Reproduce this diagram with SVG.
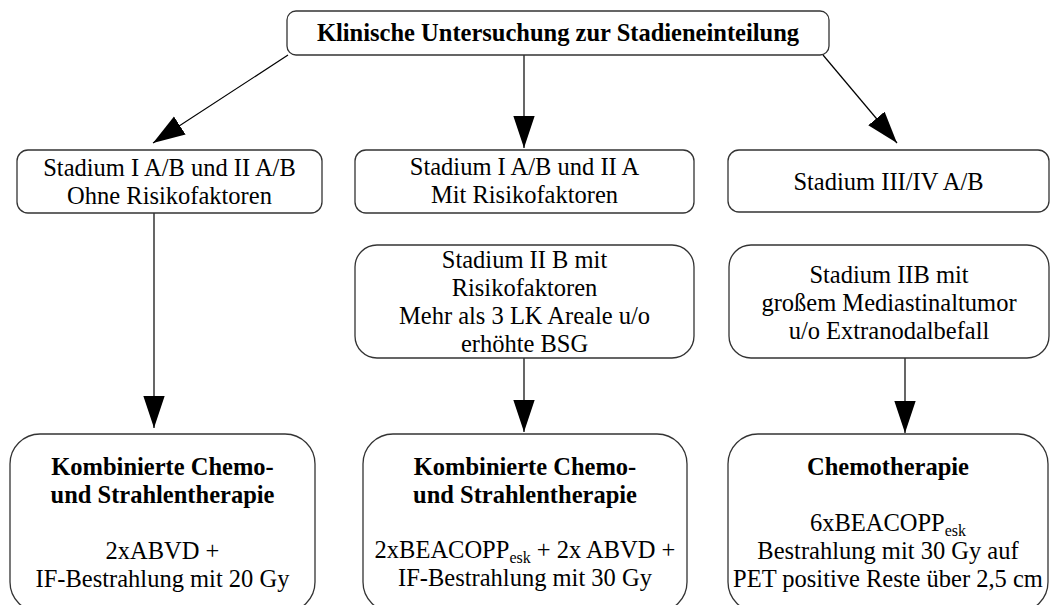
<svg xmlns="http://www.w3.org/2000/svg" width="1050" height="605" viewBox="0 0 1050 605">
<defs>
<style>
.box{fill:#fff;stroke:#333;stroke-width:1.3}
.t{font-family:"Liberation Serif","Times New Roman",serif;font-size:24.5px;fill:#000;text-anchor:middle}
.b{font-weight:bold}
.c{stroke:#000;stroke-width:1.2;fill:none;marker-end:url(#ah)}
</style>
<marker id="ah" markerUnits="userSpaceOnUse" markerWidth="32" markerHeight="22" viewBox="0 0 30 20" refX="30" refY="10" orient="auto">
<path d="M0,0 L30,10 L0,20 Z" fill="#000"/>
</marker>
</defs>
<rect width="1050" height="605" fill="#fff"/>
<g id="connectors">
<line class="c" x1="288" y1="55" x2="153" y2="143"/>
<line class="c" x1="524" y1="55" x2="524" y2="148"/>
<line class="c" x1="823" y1="55" x2="897" y2="143"/>
<line class="c" x1="154" y1="213" x2="154" y2="428"/>
<line class="c" x1="524" y1="358" x2="524" y2="432"/>
<line class="c" x1="905" y1="358" x2="905" y2="433"/>
</g>
<g id="top">
<rect class="box" x="287" y="11" width="542" height="44" rx="9"/>
<text class="t b" x="558" y="41">Klinische Untersuchung zur Stadieneinteilung</text>
</g>
<g id="s1">
<rect class="box" x="17" y="150" width="305" height="63" rx="11"/>
<text class="t" x="169.5" y="176">Stadium I A/B und II A/B</text>
<text class="t" x="169.5" y="204">Ohne Risikofaktoren</text>
</g>
<g id="s2">
<rect class="box" x="355" y="150" width="339" height="63" rx="11"/>
<text class="t" x="524.5" y="175">Stadium I A/B und II A</text>
<text class="t" x="524.5" y="203">Mit Risikofaktoren</text>
</g>
<g id="s3">
<rect class="box" x="728" y="150" width="321" height="62" rx="11"/>
<text class="t" x="888.5" y="190">Stadium III/IV A/B</text>
</g>
<g id="s4">
<rect class="box" x="355" y="245" width="339" height="113" rx="22"/>
<text class="t" x="524.5" y="268">Stadium II B mit</text>
<text class="t" x="524.5" y="296">Risikofaktoren</text>
<text class="t" x="524.5" y="324">Mehr als 3 LK Areale u/o</text>
<text class="t" x="524.5" y="352">erhöhte BSG</text>
</g>
<g id="s5">
<rect class="box" x="729" y="245" width="320" height="113" rx="22"/>
<text class="t" x="889" y="283">Stadium IIB mit</text>
<text class="t" x="889" y="311">großem Mediastinaltumor</text>
<text class="t" x="889" y="339">u/o Extranodalbefall</text>
</g>
<g id="th1">
<rect class="box" x="10" y="434" width="305" height="178" rx="30"/>
<text class="t b" x="162.5" y="475">Kombinierte Chemo-</text>
<text class="t b" x="162.5" y="503">und Strahlentherapie</text>
<text class="t" x="162.5" y="559">2xABVD +</text>
<text class="t" x="162.5" y="587">IF-Bestrahlung mit 20 Gy</text>
</g>
<g id="th2">
<rect class="box" x="363" y="434" width="324" height="178" rx="30"/>
<text class="t b" x="525" y="475">Kombinierte Chemo-</text>
<text class="t b" x="525" y="503">und Strahlentherapie</text>
<text class="t" x="525" y="558">2xBEACOPP<tspan font-size="16" dy="5">esk</tspan><tspan dy="-5"> + 2x ABVD +</tspan></text>
<text class="t" x="525" y="586">IF-Bestrahlung mit 30 Gy</text>
</g>
<g id="th3">
<rect class="box" x="728" y="434" width="320" height="178" rx="30"/>
<text class="t b" x="888" y="475">Chemotherapie</text>
<text class="t" x="888" y="531">6xBEACOPP<tspan font-size="16" dy="5">esk</tspan></text>
<text class="t" x="888" y="559">Bestrahlung mit 30 Gy auf</text>
<text class="t" x="888" y="587">PET positive Reste über 2,5 cm</text>
</g>
</svg>
